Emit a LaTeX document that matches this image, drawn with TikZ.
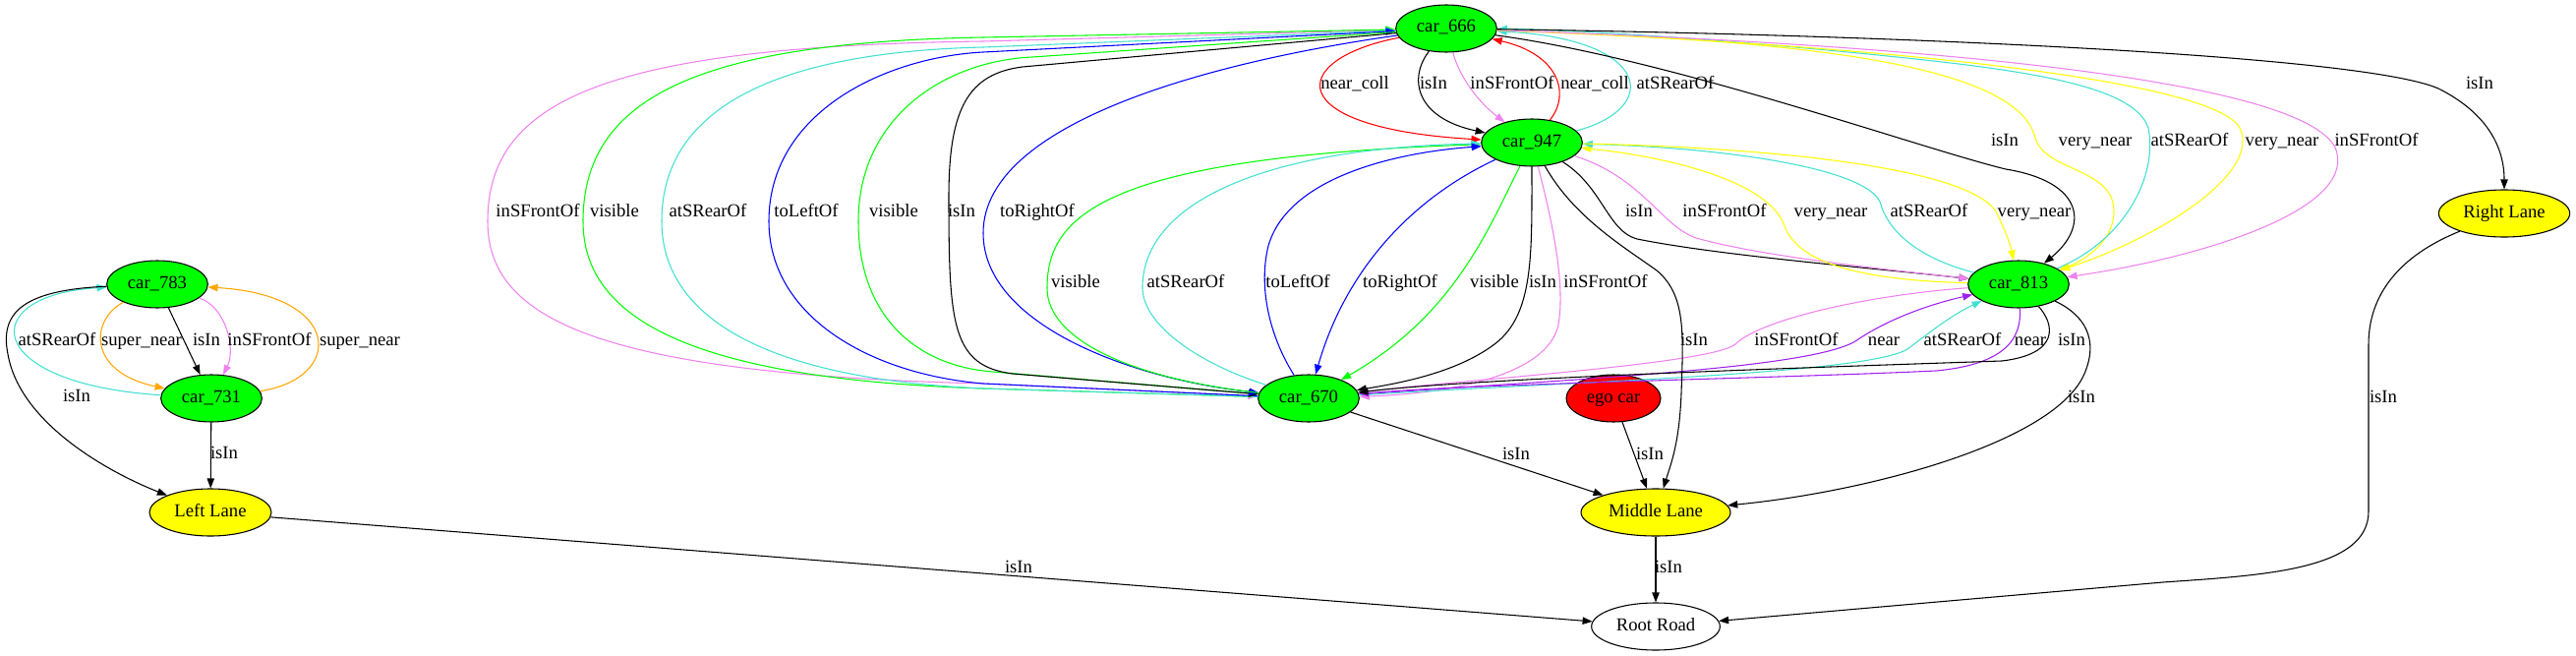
\documentclass[tikz,border=0pt]{standalone}
\usepackage{fontspec}
\setmainfont{Liberation Serif}
\usetikzlibrary{shapes.geometric}
\usetikzlibrary{arrows.meta}
\definecolor{gvgreen}{HTML}{00FF00}
\definecolor{gvred}{HTML}{FF0000}
\definecolor{gvyellow}{HTML}{FFFF00}
\definecolor{gvviolet}{HTML}{EE82EE}
\definecolor{gvturq}{HTML}{40E0D0}
\definecolor{gvblue}{HTML}{0000FF}
\definecolor{gvorange}{HTML}{FFA500}
\definecolor{gvpurple}{HTML}{A020F0}

\begin{document}
\begin{tikzpicture}[x=0.75pt, y=-0.75pt, >={Triangle[length=7.5pt,width=5.5pt]},
  every node/.style={font=\fontsize{14}{16}\selectfont},
  veh/.style={draw, ellipse, line width=0.8pt, fill=gvgreen, inner sep=0pt, minimum width=77pt, minimum height=36pt, text height=9pt, text depth=3pt},
  lane/.style={veh, fill=gvyellow},
  rel/.style={->, line width=0.8pt},
  lbl/.style={inner sep=0pt, text height=9pt, text depth=3pt}]
\useasboundingbox (0,0) rectangle (2620,667);

\node[veh] (c783) at (160,289) {car\_783};
\node[veh] (c731) at (215,405) {car\_731};
\node[lane, minimum width=93pt] (left) at (214,521) {Left Lane};
\node[veh] (c666) at (1471,29) {car\_666};
\node[veh] (c947) at (1558,145) {car\_947};
\node[veh] (c670) at (1331,405) {car\_670};
\node[veh] (c813) at (2053,289) {car\_813};
\node[veh, fill=gvred, minimum width=72pt] (ego) at (1641,405) {ego car};
\node[lane, minimum width=114pt] (middle) at (1684,521) {Middle Lane};
\node[lane, minimum width=100pt] (right) at (2547,217) {Right Lane};
\node[lane, fill=white, minimum width=98pt] (root) at (1684,637) {Root Road};

% left group
\draw[rel] (c783) -- (c731);
\draw[rel, gvviolet] (c783) .. controls (230,312) and (240,355) .. (c731);
\draw[rel, gvorange] (c783) .. controls (92,325) and (88,378) .. (c731);
\draw[rel, gvorange] (c731) .. controls (350,385) and (350,300) .. (c783);
\draw[rel, gvturq] (c731) .. controls (-20,390) and (-25,300) .. (c783);
\draw[rel] (c783) .. controls (20,295) and (0,320) .. (8,360) .. controls (20,430) and (110,480) .. (left);
\draw[rel] (c731) -- (left);
\draw[rel] (left) -- (root);

% car_666 / car_947
\draw[rel, gvred] (c666) .. controls (1310,60) and (1300,130) .. (c947);
\draw[rel] (c666) .. controls (1432,80) and (1440,120) .. (c947);
\draw[rel, gvviolet] (c666) .. controls (1485,80) and (1505,105) .. (c947);
\draw[rel, gvred] (c947) .. controls (1598,95) and (1585,55) .. (c666);
\draw[rel, gvturq] (c947) .. controls (1690,110) and (1680,40) .. (c666);

% car_666 / car_670, the long loops
\draw[rel, gvviolet] (c666) -- (1000,42) .. controls (616,47) and (496,102) .. (496,225) .. controls (496,320) and (596,380) .. (1000,390) -- (c670);
\draw[rel, <-, gvgreen] (c666) -- (1000,38) .. controls (713,43) and (593,98) .. (593,225) .. controls (593,320) and (693,385) .. (1000,395) -- (c670);
\draw[rel, <-, gvturq] (c666) -- (1000,48) .. controls (793,53) and (673,108) .. (673,225) .. controls (673,320) and (773,385) .. (1000,395) -- (c670);
\draw[rel, <-, gvblue] (c666) -- (1000,53) .. controls (902,58) and (782,113) .. (782,225) .. controls (782,320) and (882,380) .. (1000,390) -- (c670);
\draw[rel, gvgreen] (c666) -- (1050,58) .. controls (960,62) and (873,120) .. (873,225) .. controls (873,320) and (930,372) .. (1010,378) -- (c670);
\draw[rel] (c666) -- (1040,68) .. controls (985,75) and (965,110) .. (965,200) .. controls (965,330) and (968,372) .. (1030,380) -- (c670);
\draw[rel, gvblue] (c666) .. controls (1250,60) and (1000,120) .. (1000,237) .. controls (1000,330) and (1150,385) .. (c670);

% car_947 / car_670
\draw[rel, <-, gvgreen] (c947) .. controls (1120,160) and (1065,220) .. (1065,293) .. controls (1065,345) and (1150,385) .. (c670);
\draw[rel, gvturq] (c670) .. controls (1220,370) and (1160,330) .. (1162,290) .. controls (1165,200) and (1300,150) .. (c947);
\draw[rel, gvblue] (c670) .. controls (1290,340) and (1280,290) .. (1290,250) .. controls (1310,180) and (1420,155) .. (c947);
\draw[rel, gvblue] (c947) .. controls (1440,200) and (1370,270) .. (c670);
\draw[rel, gvgreen] (c947) .. controls (1515,230) and (1480,320) .. (c670);
\draw[rel] (c947) .. controls (1558,260) and (1560,320) .. (1520,350) .. controls (1480,380) and (1420,390) .. (c670);
\draw[rel, gvviolet] (c947) .. controls (1580,230) and (1592,290) .. (1585,330) .. controls (1575,380) and (1480,400) .. (c670);

% car_947 / car_813
\draw[rel] (c947) .. controls (1630,190) and (1635,235) .. (1665,243) .. controls (1750,260) and (1900,272) .. (c813);
\draw[rel, gvviolet] (c947) .. controls (1670,180) and (1690,230) .. (1725,242) .. controls (1790,260) and (1900,272) .. (c813);
\draw[rel, gvyellow] (c813) .. controls (1900,285) and (1830,270) .. (1815,230) .. controls (1800,185) and (1700,160) .. (c947);
\draw[rel, gvturq] (c813) .. controls (1950,262) and (1920,235) .. (1912,205) .. controls (1895,170) and (1750,150) .. (c947);
\draw[rel, gvyellow] (c947) .. controls (1800,150) and (2000,170) .. (2030,215) .. controls (2040,235) and (2045,250) .. (c813);

% car_666 / car_813 and Right Lane
\draw[rel] (c666) .. controls (1700,60) and (1950,150) .. (2040,172) .. controls (2120,185) and (2125,230) .. (c813);
\draw[rel, gvyellow] (c666) .. controls (1800,40) and (2050,60) .. (2070,140) .. controls (2080,175) and (2150,170) .. (2150,215) .. controls (2150,245) and (2120,265) .. (c813);
\draw[rel, gvturq] (c813) .. controls (2160,245) and (2195,180) .. (2185,130) .. controls (2170,85) and (2050,70) .. (1900,55) .. controls (1750,40) and (1600,30) .. (c666);
\draw[rel, gvyellow] (c666) .. controls (1900,45) and (2250,80) .. (2278,130) .. controls (2300,175) and (2200,240) .. (c813);
\draw[rel, gvviolet] (c666) .. controls (1950,45) and (2340,80) .. (2375,150) .. controls (2400,210) and (2250,260) .. (c813);
\draw[rel] (c666) .. controls (1900,35) and (2400,55) .. (2480,90) .. controls (2530,115) and (2547,150) .. (right);

% car_813 / car_670
\draw[rel, gvviolet] (c813) .. controls (1900,300) and (1790,325) .. (1765,350) .. controls (1740,370) and (1500,385) .. (c670);
\draw[rel, gvpurple] (c670) .. controls (1600,385) and (1850,375) .. (1890,345) .. controls (1920,325) and (1960,310) .. (c813);
\draw[rel, gvturq] (c670) .. controls (1600,388) and (1900,380) .. (1940,355) .. controls (1960,340) and (1985,320) .. (c813);
\draw[rel, gvpurple] (c813) .. controls (2056,340) and (2045,370) .. (1969,377) .. controls (1800,385) and (1500,390) .. (c670);
\draw[rel] (c813) .. controls (2090,330) and (2095,360) .. (2036,367) .. controls (1800,375) and (1500,385) .. (c670);

% lanes
\draw[rel] (c947) .. controls (1600,220) and (1650,250) .. (1685,275) .. controls (1715,300) and (1712,340) .. (1710,400) .. controls (1708,450) and (1700,470) .. (middle);
\draw[rel] (c813) .. controls (2120,320) and (2135,345) .. (2120,380) .. controls (2090,450) and (1900,500) .. (middle);
\draw[rel] (c670) -- (middle);
\draw[rel] (ego) -- (middle);
\draw[rel] (middle) -- (root);
\draw[rel] (right) .. controls (2440,260) and (2409,300) .. (2409,350) -- (2409,520) .. controls (2409,580) and (2300,585) .. (2200,592) -- (root);

% labels
\node[lbl] (a1) at (58,347) {atSRearOf};
\node[lbl] (a2) at (144,347) {super\_near};
\node[lbl] (a3) at (210,347) {isIn};
\node[lbl] (a4) at (274,347) {inSFrontOf};
\node[lbl] (a5) at (366,347) {super\_near};
\node[lbl] (a6) at (78,404) {isIn};
\node[lbl] (a7) at (228,462) {isIn};
\node[lbl] (a8) at (1036,578) {isIn};

\node[lbl] (b1) at (1378,87) {near\_coll};
\node[lbl] (b2) at (1458,87) {isIn};
\node[lbl] (b3) at (1538,87) {inSFrontOf};
\node[lbl] (b4) at (1622,87) {near\_coll};
\node[lbl] (b5) at (1704,87) {atSRearOf};

\node[lbl] (c1) at (547,216) {inSFrontOf};
\node[lbl] (c2) at (625,216) {visible};
\node[lbl] (c3) at (720,216) {atSRearOf};
\node[lbl] (c4) at (820,216) {toLeftOf};
\node[lbl] (c5) at (909,216) {visible};
\node[lbl] (c6) at (978,216) {isIn};
\node[lbl] (c7) at (1055,216) {toRightOf};

\node[lbl] (d1) at (1094,288) {visible};
\node[lbl] (d2) at (1206,288) {atSRearOf};
\node[lbl] (d3) at (1320,288) {toLeftOf};
\node[lbl] (d4) at (1424,288) {toRightOf};
\node[lbl] (d5) at (1520,288) {visible};
\node[lbl] (d6) at (1569,288) {isIn};
\node[lbl] (d7) at (1633,288) {inSFrontOf};

\node[lbl] (e1) at (1667,216) {isIn};
\node[lbl] (e2) at (1754,216) {inSFrontOf};
\node[lbl] (e3) at (1862,216) {very\_near};
\node[lbl] (e4) at (1962,216) {atSRearOf};
\node[lbl] (e5) at (2069,216) {very\_near};

\node[lbl] (f1) at (2039,144) {isIn};
\node[lbl] (f2) at (2131,144) {very\_near};
\node[lbl] (f3) at (2227,144) {atSRearOf};
\node[lbl] (f4) at (2321,144) {very\_near};
\node[lbl] (f5) at (2417,144) {inSFrontOf};
\node[lbl] (f6) at (2522,87) {isIn};

\node[lbl] (g1) at (1827,347) {inSFrontOf};
\node[lbl] (g2) at (1916,347) {near};
\node[lbl] (g3) at (1996,347) {atSRearOf};
\node[lbl] (g4) at (2065,347) {near};
\node[lbl] (g5) at (2107,347) {isIn};

\node[lbl] (h1) at (1723,347) {isIn};
\node[lbl] (h2) at (2117,405) {isIn};
\node[lbl] (h3) at (1542,463) {isIn};
\node[lbl] (h4) at (1678,463) {isIn};
\node[lbl] (h5) at (1697,578) {isIn};
\node[lbl] (h6) at (2424,405) {isIn};
\end{tikzpicture}
\end{document}
